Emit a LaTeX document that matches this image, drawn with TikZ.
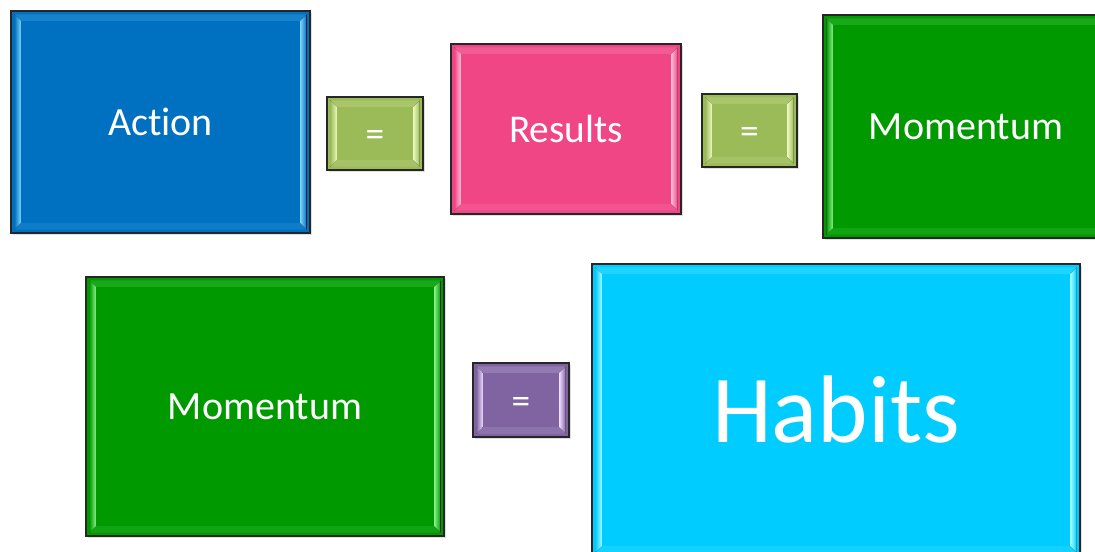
\documentclass[tikz,border=0pt]{standalone}
\usepackage{fontspec}
\setmainfont{Carlito}[Ligatures=NoCommon]
\usetikzlibrary{shadows,calc}
\definecolor{cAction}{HTML}{0070C0}
\definecolor{cActionL}{HTML}{7FD4FA}
\definecolor{cEq}{HTML}{9BBB59}
\definecolor{cEqL}{HTML}{EFFAC0}
\definecolor{cRes}{HTML}{F14686}
\definecolor{cResL}{HTML}{FBC0D8}
\definecolor{cMom}{HTML}{009900}
\definecolor{cMomL}{HTML}{8CF08C}
\definecolor{cPur}{HTML}{8064A2}
\definecolor{cPurL}{HTML}{F0E0FF}
\definecolor{cHab}{HTML}{00CCFF}
\definecolor{cHabL}{HTML}{A8FFFF}
\tikzset{
  bbox/.style={draw=black!85, line width=1.1pt, rectangle, inner sep=0pt, text=white,
    drop shadow={opacity=0.25, shadow xshift=1.5pt, shadow yshift=-1.5pt}},
}
\newcommand\eqsign{\raisebox{-10pt}[0pt][0pt]{=}}
% #1 node name, #2 light colour, #3 bevel width (pt), #4 base colour
\newcommand\mybevel[4]{%
  \fill[left color=#4, right color=#2] ([xshift=3pt,yshift=-3pt]#1.north west) -- ([xshift=3pt+#3,yshift=-3pt-#3]#1.north west) -- ([xshift=3pt+#3,yshift=3pt+#3]#1.south west) -- ([xshift=3pt,yshift=3pt]#1.south west) -- cycle;
  \fill[left color=#2, right color=#4] ([xshift=-3pt,yshift=-3pt]#1.north east) -- ([xshift=-3pt-#3,yshift=-3pt-#3]#1.north east) -- ([xshift=-3pt-#3,yshift=3pt+#3]#1.south east) -- ([xshift=-3pt,yshift=3pt]#1.south east) -- cycle;
  \fill[#2, opacity=0.18] ([xshift=3pt,yshift=-3pt]#1.north west) -- ([xshift=-3pt,yshift=-3pt]#1.north east) -- ([xshift=-3pt-#3,yshift=-3pt-#3]#1.north east) -- ([xshift=3pt+#3,yshift=-3pt-#3]#1.north west) -- cycle;
  \fill[#2, opacity=0.12] ([xshift=3pt,yshift=3pt]#1.south west) -- ([xshift=-3pt,yshift=3pt]#1.south east) -- ([xshift=-3pt-#3,yshift=3pt+#3]#1.south east) -- ([xshift=3pt+#3,yshift=3pt+#3]#1.south west) -- cycle;
}
\begin{document}
\begin{tikzpicture}[x=0.75pt,y=-0.75pt]
\useasboundingbox (0,0) rectangle (1095,552);
\begin{scope}
\clip (0,0) rectangle (1095,552);
\node[bbox, fill=cAction, minimum width=299*0.75pt, minimum height=222*0.75pt, font=\fontsize{30}{34}\selectfont] (action) at (160.5,122) {Action};
\node[bbox, fill=cEq, minimum width=96*0.75pt, minimum height=73*0.75pt, font=\fontsize{28}{30}\selectfont] (eq1) at (375,133.5) {\eqsign};
\node[bbox, fill=cRes, minimum width=230*0.75pt, minimum height=170*0.75pt, font=\fontsize{29.5}{33}\selectfont] (results) at (566,129) {Results};
\node[bbox, fill=cEq, minimum width=95*0.75pt, minimum height=73*0.75pt, font=\fontsize{28}{30}\selectfont] (eq2) at (749.5,130.5) {\eqsign};
\node[bbox, fill=cMom, minimum width=286*0.75pt, minimum height=223*0.75pt, font=\fontsize{30}{34}\selectfont] (mom1) at (966,126.5) {Momentum};
\node[bbox, fill=cMom, minimum width=358*0.75pt, minimum height=259*0.75pt, font=\fontsize{30}{34}\selectfont] (mom2) at (265,406.5) {Momentum};
\node[bbox, fill=cPur, minimum width=96*0.75pt, minimum height=74*0.75pt, font=\fontsize{28}{30}\selectfont] (eq3) at (521,400) {\eqsign};
\node[bbox, fill=cHab, minimum width=488*0.75pt, minimum height=292*0.75pt, font=\fontsize{72}{82}\selectfont] (habits) at (836,410) {Habits};
\mybevel{action}{cActionL}{5pt}{cAction}
\mybevel{eq1}{cEqL}{5pt}{cEq}
\mybevel{results}{cResL}{5pt}{cRes}
\mybevel{eq2}{cEqL}{5pt}{cEq}
\mybevel{mom1}{cMomL}{5pt}{cMom}
\mybevel{mom2}{cMomL}{5pt}{cMom}
\mybevel{eq3}{cPurL}{5pt}{cPur}
\mybevel{habits}{cHabL}{5pt}{cHab}
\end{scope}
\end{tikzpicture}
\end{document}
